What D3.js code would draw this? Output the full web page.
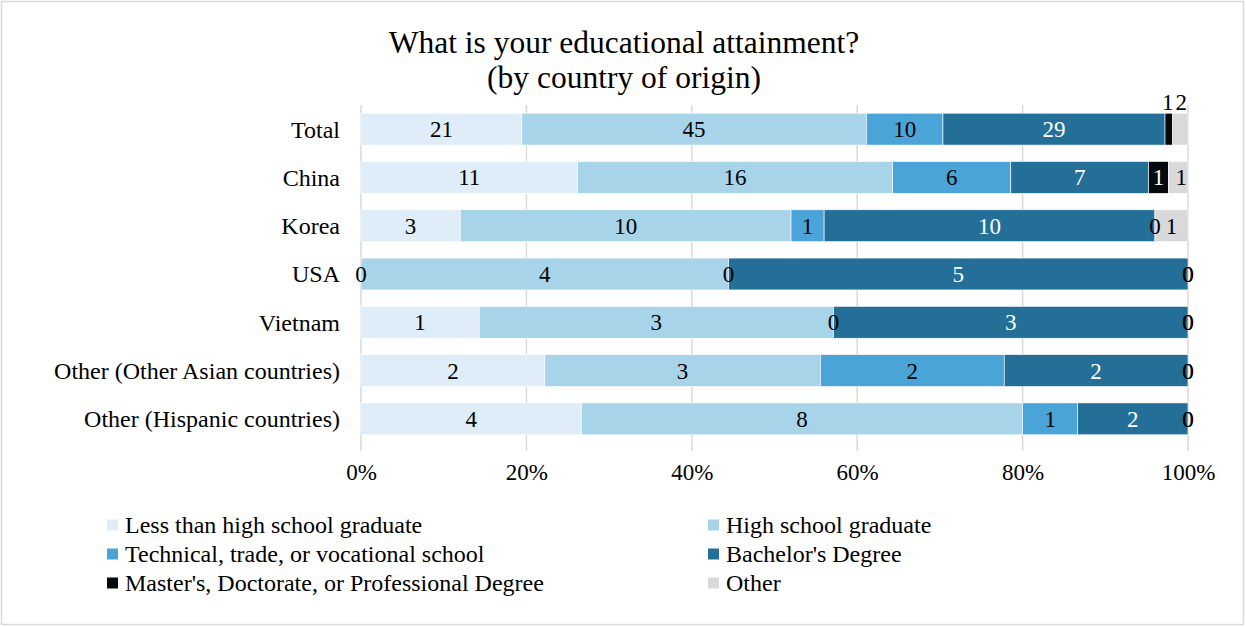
<!DOCTYPE html>
<html>
<head>
<meta charset="utf-8">
<script src="https://cdn.jsdelivr.net/npm/d3@7/dist/d3.min.js"></script>
<style>
html,body{margin:0;padding:0;background:#fff;}
svg text{font-family:"Liberation Serif","Times New Roman",serif;}
</style>
</head>
<body>
<svg id="chart" width="1246" height="627"></svg>
<script>
const categories = ["Total","China","Korea","USA","Vietnam","Other (Other Asian countries)","Other (Hispanic countries)"];
const seriesNames = ["Less than high school graduate","High school graduate","Technical, trade, or vocational school","Bachelor's Degree","Master's, Doctorate, or Professional Degree","Other"];
const lessThanHS = [21,11,3,0,1,2,4];
const hsGraduate = [45,16,10,4,3,3,8];
const technical = [10,6,1,0,0,2,1];
const bachelors = [29,7,10,5,3,2,2];
const masters = [1,1,0,0,0,0,0];
const other = [2,1,1,0,0,0,0];
const tickLabels = ["0%","20%","40%","60%","80%","100%"];
const colors = ["#deedf7","#a8d4ea","#4ba4d8","#246f98","#050a0e","#d9d9d9"];
const labelColors = ["#000","#000","#000","#fff","#fff","#000"];

const seriesValues = [lessThanHS,hsGraduate,technical,bachelors,masters,other];
const FS = 23, FL = 24;

const svg = d3.select("#chart");
const W = 1246, H = 627;
svg.append("rect").attr("x",1.5).attr("y",1.5).attr("width",W-4).attr("height",H-4)
  .attr("fill","#fff").attr("stroke","#d9d9d9").attr("stroke-width",1.5);

const x = d3.scaleLinear().domain([0,1]).range([361,1188]);
const y = d3.scaleBand().domain(categories).range([105,443]).paddingInner(0.34).paddingOuter(0.17);

// gridlines
svg.append("g").selectAll("line").data(d3.range(0,1.0001,0.2)).join("line")
  .attr("x1",d=>x(d)).attr("x2",d=>x(d)).attr("y1",105).attr("y2",451)
  .attr("stroke","#d9d9d9").attr("stroke-width",1.5);

// stack data
const rows = categories.map((c,i)=>{
  const o = {cat:c};
  seriesNames.forEach((s,j)=>o[s]=seriesValues[j][i]);
  o.total = d3.sum(seriesValues, v=>v[i]);
  return o;
});
const stack = d3.stack().keys(seriesNames).value((d,k)=>d[k]/d.total);
const stacked = stack(rows);

const g = svg.append("g");
stacked.forEach((layer,j)=>{
  g.append("g").selectAll("rect").data(layer).join("rect")
    .attr("x",d=>x(d[0])).attr("width",d=>Math.max(0,x(d[1])-x(d[0])))
    .attr("y",d=>y(d.data.cat)).attr("height",y.bandwidth())
    .attr("fill",colors[j]).attr("stroke","#fff").attr("stroke-width",0.6);
});

// value labels
const lg = svg.append("g").attr("font-size",FS).attr("text-anchor","middle");
stacked.forEach((layer,j)=>{
  layer.forEach((d,i)=>{
    const v = d.data[seriesNames[j]];
    let cx = (x(d[0])+x(d[1]))/2;
    let cy = y(d.data.cat)+y.bandwidth()/2;
    let col = labelColors[j];
    if (v===0) col = "#000";
    if (d.data.cat==="Total" && j>=4) { cy = y(d.data.cat)-11; col="#000"; if(j===4) cx-=1; else cx+=1; }
    if (d.data.cat==="China" && j===5) cx += 3;
    lg.append("text").attr("x",cx).attr("y",cy).attr("dy","0.35em").attr("fill",col).text(v);
  });
});

// category labels
svg.append("g").selectAll("text").data(categories).join("text")
  .attr("x",340).attr("y",d=>y(d)+y.bandwidth()/2).attr("dy","0.35em")
  .attr("text-anchor","end").attr("font-size",FL).attr("fill","#000").text(d=>d);

// x axis labels
const axis = d3.axisBottom(x).tickValues(d3.range(0,1.0001,0.2)).tickFormat((d,i)=>tickLabels[i]).tickSize(0).tickPadding(0);
const ax = svg.append("g").attr("transform","translate(0,472)").call(axis);
ax.select(".domain").remove();
ax.selectAll("text").attr("font-size",FS).attr("fill","#000").attr("dy","0.35em")
  .style("font-family","'Liberation Serif','Times New Roman',serif");

// title
const title = svg.append("g").attr("font-size",31.5).attr("text-anchor","middle").attr("fill","#000");
title.append("text").attr("x",624).attr("y",42).attr("dy","0.35em").text("What is your educational attainment?");
title.append("text").attr("x",624).attr("y",77).attr("dy","0.35em").text("(by country of origin)");

// legend
const legPos = [[107,525],[708,525],[107,554],[708,554],[107,583],[708,583]];
const leg = svg.append("g");
seriesNames.forEach((s,j)=>{
  const [lx,ly] = legPos[j];
  leg.append("rect").attr("x",lx).attr("y",ly-5.5).attr("width",11).attr("height",11).attr("fill",colors[j]);
  leg.append("text").attr("x",lx+18).attr("y",ly).attr("dy","0.35em").attr("font-size",FL).attr("fill","#000").text(s);
});
</script>
</body>
</html>
